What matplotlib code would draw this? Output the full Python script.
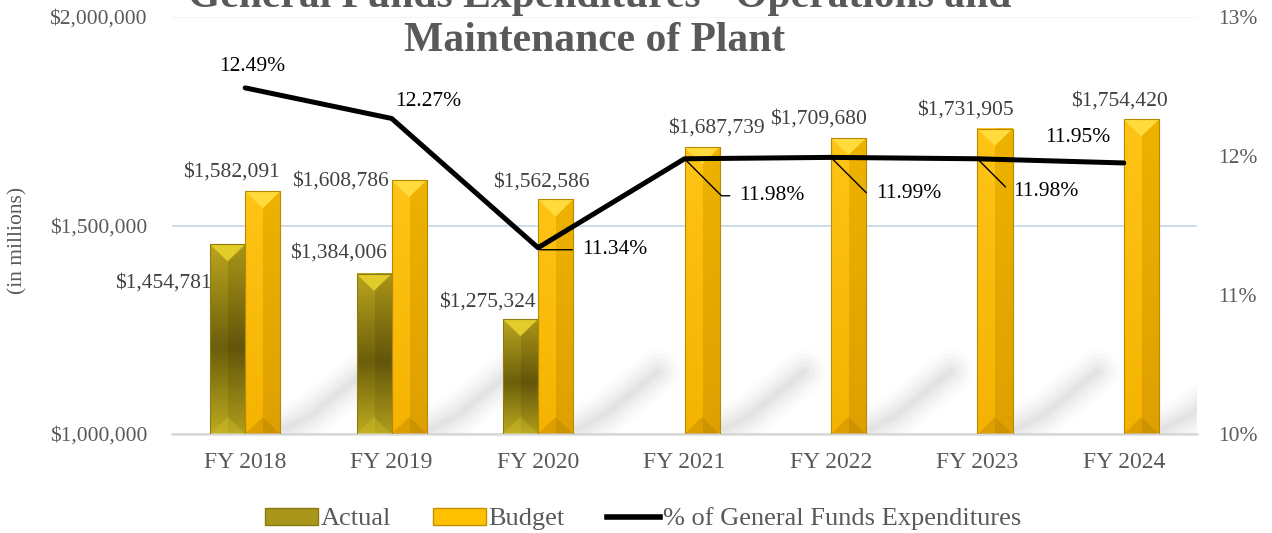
import numpy as np
import matplotlib
matplotlib.use("Agg")
import matplotlib.pyplot as plt
from matplotlib.patches import Polygon, Rectangle, Patch
from matplotlib.lines import Line2D
from matplotlib.ticker import FuncFormatter

plt.rcParams['font.family'] = ['Liberation Serif', 'DejaVu Serif']

# data
years = ["FY 2018", "FY 2019", "FY 2020", "FY 2021", "FY 2022", "FY 2023", "FY 2024"]
actual = [1454781, 1384006, 1275324, None, None, None, None]
budget = [1582091, 1608786, 1562586, 1687739, 1709680, 1731905, 1754420]
pct = [12.49, 12.27, 11.34, 11.98, 11.99, 11.98, 11.95]

# label placement (pixels, y up) - just styling
budget_off = [(-31, 19), (-69, -1), (-14, 17), (14, 19), (-30, 19), (-30, 19), (-22, 18)]
actual_off = [(-64, -39), (-36, 21), (-33, 17)]
pct_off = [(7, 21), (37, 17), (44, -2), (55, -37), (45, -36), (36, -33), (-46, 25)]
pct_leader = [False, False, True, True, True, True, False]

GREY = '#595959'
W = 0.24
YMIN, YMAX = 1000000, 2000000
px_to_y = (YMAX - YMIN) / 417.0


def gradient(stops, n=200):
    pos = [s[0] for s in stops]
    cols = np.array([matplotlib.colors.to_rgb(s[1]) for s in stops])
    t = np.linspace(0, 1, n)
    return np.stack([np.interp(t, pos, cols[:, k]) for k in range(3)], axis=1)


def draw_bar(ax, x0, top, left_stops, right_stops, bevel_top, bevel_bot, edge):
    left = gradient(left_stops)
    right = gradient(right_stops)
    img = np.stack([left, right], axis=1)
    ax.imshow(img, extent=[x0, x0 + W, YMIN, top], aspect='auto',
              interpolation='nearest', zorder=2)
    d = 17 * px_to_y
    ax.add_patch(Polygon([(x0, top), (x0 + W, top), (x0 + W / 2, top - d)],
                         closed=True, facecolor=bevel_top, edgecolor='none', zorder=3))
    ax.add_patch(Polygon([(x0, YMIN), (x0 + W, YMIN), (x0 + W / 2, YMIN + d)],
                         closed=True, facecolor=bevel_bot, edgecolor='none', alpha=0.3, zorder=3))
    ax.add_patch(Rectangle((x0, YMIN), W, top - YMIN, facecolor='none',
                           edgecolor=edge, lw=0.8, zorder=4))


fig = plt.figure(figsize=(12.72, 5.33), dpi=100)
ax = fig.add_axes([172 / 1272, 1 - 434 / 533, 1025 / 1272, 417 / 533])
ax2 = ax.twinx()

x = np.arange(len(years))

# soft shadows behind the bars
for i in x:
    xs = [i + 0.27, i + 0.45, i + 0.82]
    ys = [1012000, 1045000, 1150000]
    for lw, a in [(44, 0.025), (36, 0.03), (28, 0.035), (20, 0.04), (12, 0.045), (6, 0.05)]:
        ax.plot(xs, ys, color='#808080', lw=lw * 0.72, alpha=a,
                solid_capstyle='round', solid_joinstyle='round', zorder=1)

for i in x:
    if actual[i] is not None:
        draw_bar(ax, i - W, actual[i],
                 [(0, '#BBA61E'), (0.55, '#6C5E0C'), (1, '#BDAB1F')],
                 [(0, '#AA9618'), (0.55, '#62550A'), (1, '#B09E1A')],
                 '#E2CC2A', '#D8C630', '#8C7C12')
    draw_bar(ax, i, budget[i],
             [(0, '#FFC417'), (1, '#F5B300')],
             [(0, '#EEB200'), (1, '#DEA000')],
             '#FFDB3C', '#A87400', '#B88A00')

ax.set_xlim(-0.5, len(years) - 0.5)
ax.set_ylim(YMIN, YMAX)
ax.set_yticks([1000000, 1500000, 2000000])
ax.yaxis.set_major_formatter(FuncFormatter(lambda v, p: f"${v:,.0f}"))
ax.set_xticks(x)
ax.set_xticklabels(years)
ax.tick_params(axis='both', length=0, colors=GREY)
ax.tick_params(axis='y', labelsize=15.5, pad=18)
ax.tick_params(axis='x', labelsize=17, pad=13)
ax.grid(axis='y', color='#C8D5E8', lw=1.2, zorder=0.5)
ax.set_axisbelow(True)
ax.yaxis.get_gridlines()[2].set_color('#F0F2F6')
for s in ['top', 'left', 'right']:
    ax.spines[s].set_visible(False)
ax.spines['bottom'].set_color('#D9D9D9')
ax.spines['bottom'].set_linewidth(1.8)

# value labels
for i in x:
    ax.annotate(f"${budget[i]:,}", (i + W / 2, budget[i]), xytext=budget_off[i],
                textcoords='offset pixels', ha='center', va='center',
                fontsize=15.5, color='#404040', zorder=6)
    if actual[i] is not None:
        ax.annotate(f"${actual[i]:,}", (i - W / 2, actual[i]), xytext=actual_off[i],
                    textcoords='offset pixels', ha='center', va='center',
                    fontsize=15.5, color='#404040', zorder=6)

# percentage line
ax2.plot(x, pct, color='black', lw=3.6, solid_capstyle='round', zorder=5)
ax2.set_ylim(10, 13)
ax2.set_yticks([10, 11, 12, 13])
ax2.yaxis.set_major_formatter(FuncFormatter(lambda v, p: f"{v:.0f}%"))
ax2.tick_params(axis='y', length=0, colors=GREY, labelsize=15.5, pad=15)
for s in ax2.spines.values():
    s.set_visible(False)

for i in x:
    if pct_leader[i]:
        ax2.annotate(f"{pct[i]:.2f}%", (i, pct[i]), xytext=pct_off[i],
                     textcoords='offset pixels', ha='left', va='center',
                     fontsize=15.5, color='black',
                     arrowprops=dict(arrowstyle='-', color='black', lw=1,
                                     shrinkA=5, shrinkB=0, relpos=(0, 0.5),
                                     connectionstyle='angle,angleA=0,angleB=-45,rad=0'))
    else:
        ax2.annotate(f"{pct[i]:.2f}%", (i, pct[i]), xytext=pct_off[i],
                     textcoords='offset pixels', ha='center', va='center',
                     fontsize=15.5, color='black')

# title (top line runs off the figure like the original)
fig.text(600 / 1272, 1 - 7 / 533, "General Funds Expenditures - Operations and",
         ha='center', va='baseline', fontsize=30, fontweight='bold', color=GREY)
fig.text(595 / 1272, 1 - 51 / 533, "Maintenance of Plant",
         ha='center', va='baseline', fontsize=30, fontweight='bold', color=GREY)

fig.text(18 / 1272, 1 - 240 / 533, "(in millions)", rotation=90,
         ha='center', va='center', fontsize=15.5, color=GREY)

handles = [Patch(facecolor='#A8961A', edgecolor='#8A7A10'),
           Patch(facecolor='#FFC000', edgecolor='#C09000'),
           Line2D([], [], color='black', lw=4)]
leg = fig.legend(handles, ["Actual", "Budget", "% of General Funds Expenditures"],
                 loc='center', bbox_to_anchor=(643 / 1272, 1 - 519 / 533), ncol=3,
                 frameon=False, fontsize=19, handlelength=2.0, handleheight=0.6,
                 handletextpad=0.1, columnspacing=1.6)
for t in leg.get_texts():
    t.set_color(GREY)

fig.savefig("out.png", dpi=100)
